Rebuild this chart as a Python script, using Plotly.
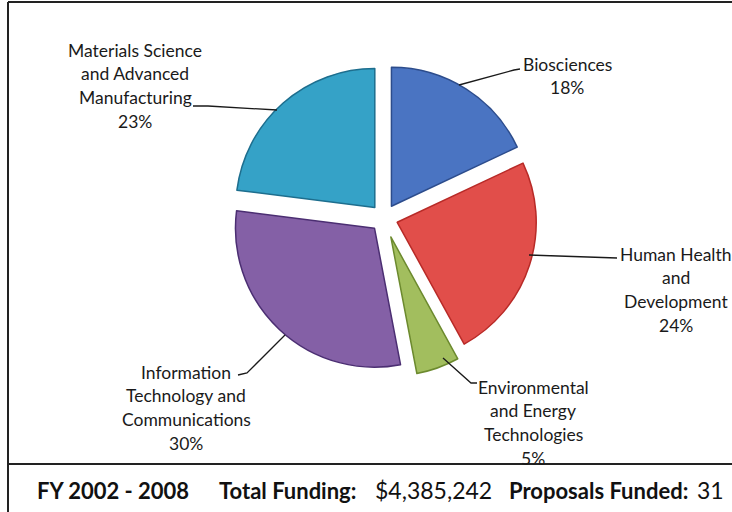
import plotly.graph_objects as go

# ---- data ----
categories = ["Biosciences",
              "Human Health and Development",
              "Environmental and Energy Technologies",
              "Information Technology and Communications",
              "Materials Science and Advanced Manufacturing"]
shares = [18, 24, 5, 30, 23]
label_lines = [["Biosciences"],
               ["Human Health", "and", "Development"],
               ["Environmental", "and Energy", "Technologies"],
               ["Information", "Technology and", "Communications"],
               ["Materials Science", "and Advanced", "Manufacturing"]]
footer_period = "FY 2002 - 2008"
footer_funding = "$4,385,242"
footer_proposals = "31"

colors = ["#4A74C2", "#E14E4A", "#A2BE5E", "#8460A6", "#35A2C7"]
edge_colors = ["#2C4C8C", "#B82A27", "#6C8A2E", "#4B2E72", "#1D6E8E"]
pulls = [0.1, 0.1, 0.145, 0.1, 0.1]

W, H = 732, 512
def px(x): return x / W
def py(y): return 1 - y / H

cx, cy, r = 384, 218, 139
half = r * (1 + max(pulls))

fig = go.Figure(go.Pie(
    labels=categories, values=shares, sort=False, direction="clockwise", rotation=0,
    pull=pulls, textinfo="none", hoverinfo="label+percent",
    marker=dict(colors=colors, line=dict(color=edge_colors, width=1.5)),
    domain=dict(x=[px(cx - half), px(cx + half)], y=[py(cy + half), py(cy - half)]),
    showlegend=False,
))

font_lbl = dict(family="Lato, 'Open Sans', sans-serif", size=17.5, color="#1a1a1a")
# label block positions (center x, first line y) and line spacing
block_pos = [(567, 64), (676, 254), (533, 387), (186, 372), (135, 50)]
spacing = 23.7
annotations = []
for lines, v, (bx, by) in zip(label_lines, shares, block_pos):
    all_lines = lines + [f"{v}%"]
    for i, t in enumerate(all_lines):
        annotations.append(dict(x=px(bx), y=py(by + i * spacing), xref="paper", yref="paper",
                                text=t, showarrow=False, xanchor="center", yanchor="middle",
                                font=font_lbl))

font_ft = dict(family="Lato, 'Open Sans', sans-serif", size=22, color="#111111")
font_ft_n = dict(family="Lato, 'Open Sans', sans-serif", size=23, color="#111111")
def ft(x, text, font):
    return dict(x=px(x), y=py(490), xref="paper", yref="paper", text=text,
                showarrow=False, xanchor="left", yanchor="middle", font=font)
annotations += [
    ft(35, f"<b>{footer_period}</b>", font_ft),
    ft(217, "<b>Total Funding:</b>", font_ft),
    ft(373, footer_funding, font_ft_n),
    ft(507, "<b>Proposals Funded:</b>", font_ft),
    ft(695, footer_proposals, font_ft_n),
]

def path(pts):
    return "M " + " L ".join(f"{px(x)},{py(y)}" for x, y in pts)

leaders = [
    [(459, 85), (514, 70), (520, 69)],
    [(529, 255), (617, 258)],
    [(443, 358), (471, 383), (477, 383)],
    [(285, 335), (247, 373), (238, 375)],
    [(193, 106), (208, 106), (277, 110)],
]
shapes = [dict(type="path", xref="paper", yref="paper", path=path(p),
               line=dict(color="#1a1a1a", width=1.3)) for p in leaders]
shapes += [
    dict(type="line", xref="paper", yref="paper", x0=px(8), x1=px(732), y0=py(2), y1=py(2),
         line=dict(color="#222", width=2)),
    dict(type="line", xref="paper", yref="paper", x0=px(8), x1=px(8), y0=py(2), y1=py(512),
         line=dict(color="#222", width=2)),
    dict(type="line", xref="paper", yref="paper", x0=px(8), x1=px(732), y0=py(464), y1=py(464),
         line=dict(color="#222", width=2)),
]

fig.update_layout(width=W, height=H, margin=dict(l=0, r=0, t=0, b=0),
                  paper_bgcolor="white", plot_bgcolor="white",
                  annotations=annotations, shapes=shapes)
fig.write_html("out.html")
